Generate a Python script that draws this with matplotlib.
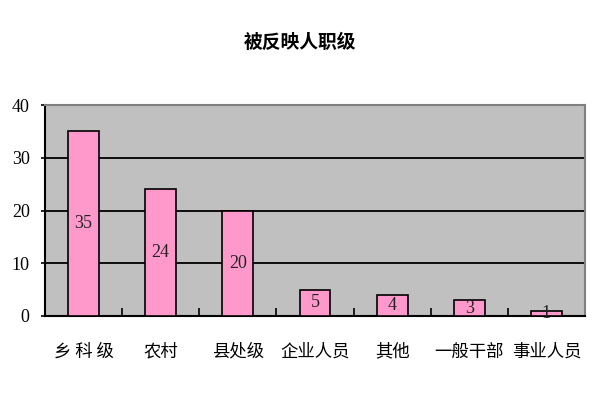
import matplotlib.pyplot as plt
import numpy as np

plt.rcParams["font.family"] = ["Noto Sans CJK SC", "DejaVu Sans"]

categories = ["乡 科 级", "农村", "县处级", "企业人员", "其他", "一般干部", "事业人员"]
counts = [35, 24, 20, 5, 4, 3, 1]
y_ticks = [0, 10, 20, 30, 40]

fig = plt.figure(figsize=(6, 4), dpi=100)
ax = fig.add_axes([0.075, 0.21, 0.9, 0.5275])
ax.set_facecolor("#c0c0c0")

x = np.arange(len(categories))
bars = ax.bar(x, counts, width=0.4, color="#ff99cc", edgecolor="black", linewidth=1.2, zorder=3)
for b, v in zip(bars, counts):
    ax.text(b.get_x() + b.get_width() / 2, v / 2, str(v), ha="center", va="center",
            fontsize=13, family=["Liberation Serif", "DejaVu Serif"], color="#222222", zorder=4)

ax.set_xlim(-0.5, len(categories) - 0.5)
ax.set_ylim(0, 40)
ax.set_yticks(y_ticks)
ax.set_yticklabels([str(t) for t in y_ticks], fontsize=13,
                   family=["Liberation Serif", "DejaVu Serif"])
for t in y_ticks[1:-1]:
    ax.axhline(t, color="black", linewidth=1.3, zorder=1)

ax.set_xticks(x)
ax.set_xticklabels(categories, fontsize=12.5)
ax.tick_params(axis="x", length=0, pad=19)
ax.set_xticks(x[:-1] + 0.5, minor=True)
ax.tick_params(axis="x", which="minor", direction="in", length=6, width=1.2, color="black")
ax.tick_params(axis="y", direction="out", length=3, width=1.2, pad=8)

for side in ["left", "bottom"]:
    ax.spines[side].set_color("black")
    ax.spines[side].set_linewidth(1.5)
for side in ["top", "right"]:
    ax.spines[side].set_color("#808080")
    ax.spines[side].set_linewidth(1.5)

fig.text(0.5, 0.895, "被反映人职级", ha="center", va="center", fontsize=13.5, fontweight="bold")

fig.savefig("out.png", dpi=100)
